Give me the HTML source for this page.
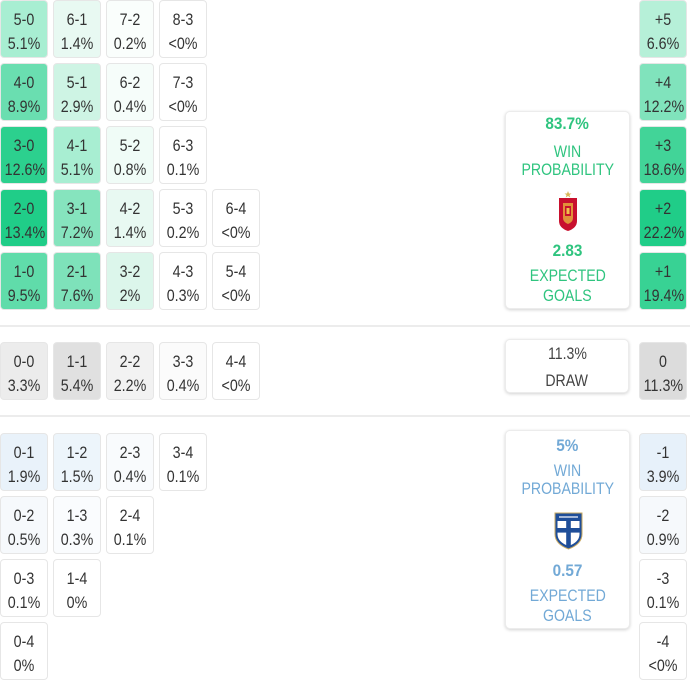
<!DOCTYPE html>
<html><head><meta charset="utf-8">
<style>
*{margin:0;padding:0;box-sizing:border-box}
html,body{width:690px;height:680px;overflow:hidden;background:#fff}
body{position:relative;font-family:"Liberation Sans",sans-serif;color:#333}
.c{position:absolute;width:48px;height:58px;border:1px solid #e6e6e6;border-radius:4px;font-size:17px;line-height:24px;padding-top:7px;text-align:center}
.c div{transform:scaleX(.84);white-space:nowrap}
.sep{position:absolute;left:0;width:690px;height:2px;background:#ececec}
.box{position:absolute;left:505px;width:125px;background:#fff;border-radius:5px;border:1px solid #ececec;box-shadow:0 1px 3px rgba(0,0,0,.18)}
.box .l{position:absolute;left:0;width:100%;text-align:center;font-size:17px;line-height:20px;white-space:nowrap}
.box .l span{display:inline-block;transform:scaleX(.83)}
.box .b{font-weight:bold}
.box .b span{transform:scaleX(.9)}
.g{color:#2fc47f}
.bl{color:#72a9d6}
.gr{color:#444}
</style></head><body>

<!-- top (home win) -->
<div class="c" style="left:0;top:0;background:rgb(168,238,210)"><div>5-0</div><div>5.1%</div></div>
<div class="c" style="left:53px;top:0;background:rgb(232,249,242)"><div>6-1</div><div>1.4%</div></div>
<div class="c" style="left:106px;top:0;background:rgb(250,254,252)"><div>7-2</div><div>0.2%</div></div>
<div class="c" style="left:159px;top:0;background:#fff"><div>8-3</div><div>&lt;0%</div></div>

<div class="c" style="left:0;top:63px;background:rgb(106,222,176)"><div>4-0</div><div>8.9%</div></div>
<div class="c" style="left:53px;top:63px;background:rgb(206,244,228)"><div>5-1</div><div>2.9%</div></div>
<div class="c" style="left:106px;top:63px;background:rgb(246,253,250)"><div>6-2</div><div>0.4%</div></div>
<div class="c" style="left:159px;top:63px;background:#fff"><div>7-3</div><div>&lt;0%</div></div>

<div class="c" style="left:0;top:126px;background:rgb(44,208,142)"><div>3-0</div><div>12.6%</div></div>
<div class="c" style="left:53px;top:126px;background:rgb(168,238,210)"><div>4-1</div><div>5.1%</div></div>
<div class="c" style="left:106px;top:126px;background:rgb(240,252,247)"><div>5-2</div><div>0.8%</div></div>
<div class="c" style="left:159px;top:126px;background:#fff"><div>6-3</div><div>0.1%</div></div>

<div class="c" style="left:0;top:189px;background:rgb(32,205,136)"><div>2-0</div><div>13.4%</div></div>
<div class="c" style="left:53px;top:189px;background:rgb(134,228,190)"><div>3-1</div><div>7.2%</div></div>
<div class="c" style="left:106px;top:189px;background:rgb(232,249,242)"><div>4-2</div><div>1.4%</div></div>
<div class="c" style="left:159px;top:189px;background:#fff"><div>5-3</div><div>0.2%</div></div>
<div class="c" style="left:212px;top:189px;background:#fff"><div>6-4</div><div>&lt;0%</div></div>

<div class="c" style="left:0;top:252px;background:rgb(96,220,170)"><div>1-0</div><div>9.5%</div></div>
<div class="c" style="left:53px;top:252px;background:rgb(126,226,186)"><div>2-1</div><div>7.6%</div></div>
<div class="c" style="left:106px;top:252px;background:rgb(220,246,235)"><div>3-2</div><div>2%</div></div>
<div class="c" style="left:159px;top:252px;background:#fff"><div>4-3</div><div>0.3%</div></div>
<div class="c" style="left:212px;top:252px;background:#fff"><div>5-4</div><div>&lt;0%</div></div>

<div class="sep" style="top:325px"></div>

<!-- draw row -->
<div class="c" style="left:0;top:342px;background:rgb(236,236,236)"><div>0-0</div><div>3.3%</div></div>
<div class="c" style="left:53px;top:342px;background:rgb(224,224,224)"><div>1-1</div><div>5.4%</div></div>
<div class="c" style="left:106px;top:342px;background:rgb(242,242,242)"><div>2-2</div><div>2.2%</div></div>
<div class="c" style="left:159px;top:342px;background:#fbfbfb"><div>3-3</div><div>0.4%</div></div>
<div class="c" style="left:212px;top:342px;background:#fff"><div>4-4</div><div>&lt;0%</div></div>

<div class="sep" style="top:415px"></div>

<!-- bottom (away win) -->
<div class="c" style="left:0;top:433px;background:rgb(233,242,250)"><div>0-1</div><div>1.9%</div></div>
<div class="c" style="left:53px;top:433px;background:rgb(237,245,251)"><div>1-2</div><div>1.5%</div></div>
<div class="c" style="left:106px;top:433px;background:rgb(249,251,253)"><div>2-3</div><div>0.4%</div></div>
<div class="c" style="left:159px;top:433px;background:#fff"><div>3-4</div><div>0.1%</div></div>

<div class="c" style="left:0;top:496px;background:rgb(246,249,252)"><div>0-2</div><div>0.5%</div></div>
<div class="c" style="left:53px;top:496px;background:rgb(250,252,254)"><div>1-3</div><div>0.3%</div></div>
<div class="c" style="left:106px;top:496px;background:#fff"><div>2-4</div><div>0.1%</div></div>

<div class="c" style="left:0;top:559px;background:#fff"><div>0-3</div><div>0.1%</div></div>
<div class="c" style="left:53px;top:559px;background:#fff"><div>1-4</div><div>0%</div></div>

<div class="c" style="left:0;top:622px;background:#fff"><div>0-4</div><div>0%</div></div>

<!-- right column -->
<div class="c" style="left:639px;top:0;background:rgb(182,240,216)"><div>+5</div><div>6.6%</div></div>
<div class="c" style="left:639px;top:63px;background:rgb(128,227,188)"><div>+4</div><div>12.2%</div></div>
<div class="c" style="left:639px;top:126px;background:rgb(66,212,152)"><div>+3</div><div>18.6%</div></div>
<div class="c" style="left:639px;top:189px;background:rgb(32,205,136)"><div>+2</div><div>22.2%</div></div>
<div class="c" style="left:639px;top:252px;background:rgb(56,210,148)"><div>+1</div><div>19.4%</div></div>
<div class="c" style="left:639px;top:342px;background:rgb(220,220,220)"><div>0</div><div>11.3%</div></div>
<div class="c" style="left:639px;top:433px;background:rgb(231,241,250)"><div>-1</div><div>3.9%</div></div>
<div class="c" style="left:639px;top:496px;background:rgb(246,249,252)"><div>-2</div><div>0.9%</div></div>
<div class="c" style="left:639px;top:559px;background:#fff"><div>-3</div><div>0.1%</div></div>
<div class="c" style="left:639px;top:622px;background:#fff"><div>-4</div><div>&lt;0%</div></div>

<!-- Spain box -->
<div class="box" style="top:111px;height:198px">
  <div class="l b g" style="top:2px"><span>83.7%</span></div>
  <div class="l g" style="top:30px"><span>WIN</span></div>
  <div class="l g" style="top:48px"><span>PROBABILITY</span></div>
  <svg style="position:absolute;left:52px;top:78px" width="20" height="42" viewBox="0 0 20 42">
    <polygon points="10,1 11,3.5 13.5,3.5 11.5,5 12.3,7.5 10,6 7.7,7.5 8.5,5 6.5,3.5 9,3.5" fill="#d9b75a"/>
    <path d="M1,8 H19 V31 Q19,38 10,41 Q1,38 1,31 Z" fill="#c8102e"/>
    <path d="M5,13 H15 V28 Q15,32 10,34 Q5,32 5,28 Z" fill="#e3a13b" opacity=".9"/>
    <rect x="7" y="16" width="6" height="10" fill="#c8102e"/>
    <rect x="8.5" y="18" width="3" height="6" fill="#f0c04a"/>
  </svg>
  <div class="l b g" style="top:129px"><span>2.83</span></div>
  <div class="l g" style="top:154px"><span>EXPECTED</span></div>
  <div class="l g" style="top:174px"><span>GOALS</span></div>
</div>

<!-- Draw box -->
<div class="box" style="top:339px;height:54px;width:124px">
  <div class="l gr" style="top:4px"><span>11.3%</span></div>
  <div class="l gr" style="top:31px"><span>DRAW</span></div>
</div>

<!-- Finland box -->
<div class="box" style="top:430px;height:199px">
  <div class="l b bl" style="top:5px"><span>5%</span></div>
  <div class="l bl" style="top:30px"><span>WIN</span></div>
  <div class="l bl" style="top:48px"><span>PROBABILITY</span></div>
  <svg style="position:absolute;left:48px;top:81px" width="29" height="38" viewBox="0 0 29 38">
    <path d="M1,1 H28 V22 Q28,32 14.5,37 Q1,32 1,22 Z" fill="#1f4e99" stroke="#c9a960" stroke-width="1"/>
    <path d="M3.5,9 H25.5 V22 Q25.5,30 14.5,34 Q3.5,30 3.5,22 Z" fill="#fff"/>
    <rect x="3.5" y="3" width="22" height="4" fill="#1f4e99"/>
    <rect x="5" y="4.3" width="19" height="1.4" fill="#dfe7f2"/>
    <rect x="12.2" y="9" width="4.6" height="25" fill="#1f4e99"/>
    <rect x="3.5" y="16" width="22" height="4.6" fill="#1f4e99"/>
  </svg>
  <div class="l b bl" style="top:130px"><span>0.57</span></div>
  <div class="l bl" style="top:155px"><span>EXPECTED</span></div>
  <div class="l bl" style="top:175px"><span>GOALS</span></div>
</div>

</body></html>
